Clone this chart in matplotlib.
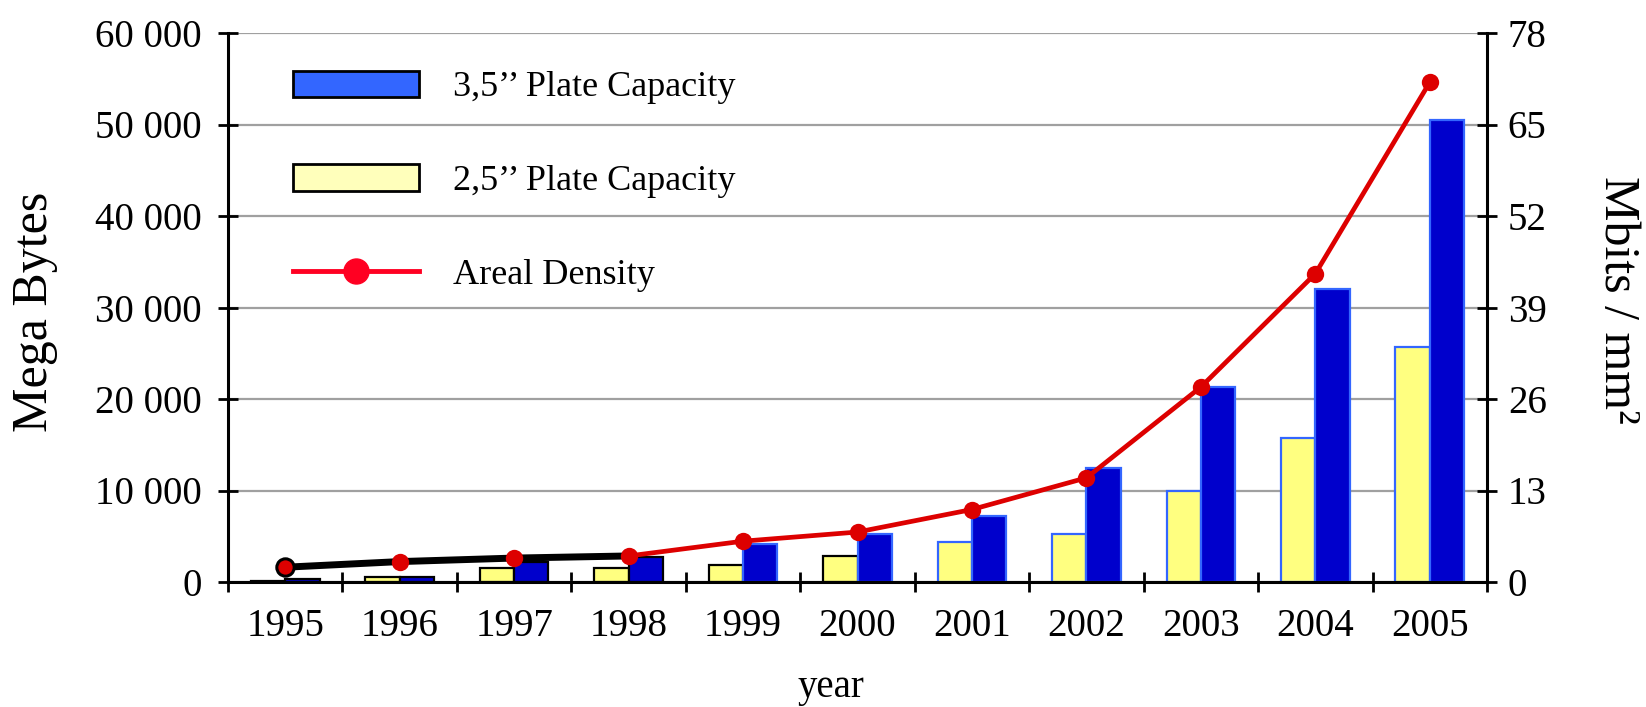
import matplotlib
matplotlib.use("Agg")
import matplotlib.pyplot as plt
import numpy as np
from matplotlib.patches import Patch
from matplotlib.lines import Line2D

years = ["1995", "1996", "1997", "1998", "1999", "2000", "2001", "2002", "2003", "2004", "2005"]
cap_25 = [150, 600, 1550, 1500, 1900, 2800, 4400, 5300, 10000, 15700, 25700]
cap_35 = [300, 600, 2200, 2700, 4100, 5300, 7200, 12500, 21300, 32000, 50500]
areal = [2.1, 2.9, 3.4, 3.7, 5.8, 7.1, 10.3, 14.8, 27.7, 43.8, 71.0]
left_ticks = [0, 10000, 20000, 30000, 40000, 50000, 60000]
left_labels = ["0", "10 000", "20 000", "30 000", "40 000", "50 000", "60 000"]
right_ticks = [0, 13, 26, 39, 52, 65, 78]

plt.rcParams['font.family'] = ['Liberation Serif', 'DejaVu Serif']

BLUE = "#0000cc"
BLUE_EDGE = "#3366ff"
YELLOW = "#ffff80"
RED = "#dd0000"

fig = plt.figure(figsize=(16.46, 7.07), dpi=100)
ax = fig.add_axes([228/1646, 1-582/707, (1487-228)/1646, (582-33)/707])
ax2 = ax.twinx()

x = np.arange(len(years))
w = 0.3
n_black_y = 6   # yellow bars with black edges (1995-2000)
n_black_b = 4   # blue bars with black edges (1995-1998)
y_edges = ["black" if i < n_black_y else BLUE_EDGE for i in range(len(years))]
b_edges = ["black" if i < n_black_b else BLUE_EDGE for i in range(len(years))]

ax.bar(x - w/2, cap_25, width=w, color=YELLOW, edgecolor=y_edges, linewidth=1.6, zorder=2)
ax.bar(x + w/2, cap_35, width=w, color=BLUE, edgecolor=b_edges, linewidth=1.6, zorder=2)

ax.set_xlim(-0.5, len(years) - 0.5)
ax.set_ylim(0, 60000)
ax.set_yticks(left_ticks)
ax.set_yticklabels(left_labels)
ax.yaxis.grid(True, color="#a0a0a0", linewidth=1.6)
ax.set_axisbelow(True)

ax.set_xticks(x)
ax.set_xticklabels(years)
ax.set_xticks(np.arange(-0.5, len(years)), minor=True)
ax.tick_params(axis='x', which='major', length=0, pad=19, labelsize=28)
ax.tick_params(axis='x', which='minor', direction='inout', length=14, width=2)
ax.tick_params(axis='y', direction='inout', length=14, width=2, pad=12, labelsize=28)

for s in ["top", "right"]:
    ax.spines[s].set_visible(False)
for s in ["left", "bottom"]:
    ax.spines[s].set_linewidth(2.2)
ax2.spines["top"].set_visible(False)
ax2.spines["left"].set_visible(False)
ax2.spines["bottom"].set_visible(False)
ax2.spines["right"].set_linewidth(2.2)

ax2.set_ylim(0, 78)
ax2.set_yticks(right_ticks)
ax2.tick_params(axis='y', direction='inout', length=14, width=2, pad=8, labelsize=28)

# Areal density line: black for early years, red afterwards
k = 3
ax2.plot(x[:k+1], areal[:k+1], color="black", linewidth=5, zorder=3)
ax2.plot(x[k:], areal[k:], color=RED, linewidth=3.4, zorder=3)
ax2.plot(x[1:], areal[1:], linestyle="none", marker="o", markersize=12.5,
         color=RED, markeredgewidth=0, zorder=4)
ax2.plot(x[:1], areal[:1], linestyle="none", marker="o", markersize=12.5,
         markerfacecolor=RED, markeredgecolor="black", markeredgewidth=2.2, zorder=4)

fig.text(35/1646, 1-312/707, "Mega Bytes", fontsize=36, rotation=90, ha="center", va="center")
fig.text(1617/1646, 1-300/707, "Mbits / mm²", fontsize=36, rotation=-90, ha="center", va="center")
fig.text(831/1646, 1-688/707, "year", fontsize=28, ha="center", va="center")

handles = [
    Patch(facecolor=BLUE_EDGE, edgecolor="black", linewidth=2),
    Patch(facecolor="#ffffbb", edgecolor="black", linewidth=2),
    Line2D([0], [0], color="#ff0022", linewidth=3.5, marker="o", markersize=18),
]
labels = ["3,5’’ Plate Capacity", "2,5’’ Plate Capacity", "Areal Density"]
ax2.legend(handles, labels, loc="upper left", bbox_to_anchor=(0.04, 0.958),
           frameon=False, fontsize=26, handlelength=3.5, handleheight=0.75,
           handletextpad=0.95, labelspacing=1.66, borderaxespad=0)

fig.savefig("out.png", dpi=100)
